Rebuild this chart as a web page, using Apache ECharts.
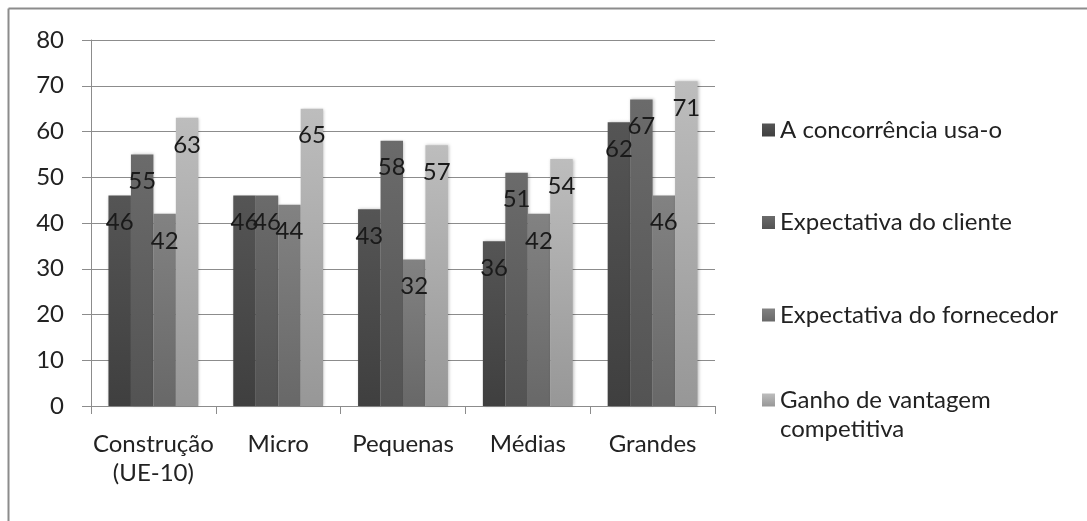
<!DOCTYPE html>
<html>
<head>
<meta charset="utf-8">
<script src="https://cdn.jsdelivr.net/npm/echarts@6/dist/echarts.min.js"></script>
<style>
html,body{margin:0;padding:0;background:#fff;}
#chart{width:1087px;height:521px;}
</style>
</head>
<body>
<div id="chart"></div>
<script>
const categories = ['Construção\n(UE-10)', 'Micro', 'Pequenas', 'Médias', 'Grandes'];
const seriesNames = ['A concorrência usa-o', 'Expectativa do cliente', 'Expectativa do fornecedor', 'Ganho de vantagem competitiva'];
const concorrencia = [46, 46, 43, 36, 62];
const cliente = [55, 46, 58, 51, 67];
const fornecedor = [42, 44, 32, 42, 46];
const vantagem = [63, 65, 57, 54, 71];
const yTicks = [0, 10, 20, 30, 40, 50, 60, 70, 80];

const FONT = 'Lato, "Open Sans", sans-serif';
const FS = 24;
function grad(top, bottom) {
  return new echarts.graphic.LinearGradient(0, 0, 0, 1, [
    {offset: 0, color: top}, {offset: 1, color: bottom}
  ]);
}
const colors = [
  grad('#555555', '#3f3f3f'),
  grad('#6b6b6b', '#535353'),
  grad('#828282', '#686868'),
  grad('#bdbdbd', '#979797')
];
const dataSets = [concorrencia, cliente, fornecedor, vantagem];

const legendText = {fontFamily: FONT, fontSize: FS, color: '#222', lineHeight: 29};

const chart = echarts.init(document.getElementById('chart'), null, {renderer: 'canvas'});
chart.setOption({
  animation: false,
  backgroundColor: '#fff',
  textStyle: {fontFamily: FONT},
  graphic: [
    {type: 'line', shape: {x1: 8.5, y1: 8.5, x2: 1087, y2: 8.5}, style: {stroke: '#8c8c8c', lineWidth: 2}},
    {type: 'line', shape: {x1: 8.5, y1: 8.5, x2: 8.5, y2: 521}, style: {stroke: '#8c8c8c', lineWidth: 2}}
  ],
  grid: {left: 91, right: 372, top: 40, bottom: 115},
  legend: [
    {
      orient: 'vertical',
      left: 762,
      top: 115.5,
      padding: 0,
      itemWidth: 13,
      itemHeight: 13,
      itemGap: 63.5,
      icon: 'rect',
      textStyle: legendText,
      data: seriesNames.slice(0, 3)
    },
    {
      orient: 'vertical',
      left: 762,
      top: 356.5,
      padding: 0,
      itemWidth: 13,
      itemHeight: 13,
      icon: 'rect',
      textStyle: legendText,
      data: [seriesNames[3]],
      formatter: function () { return ' \nGanho de vantagem\ncompetitiva'; }
    }
  ],
  xAxis: {
    type: 'category',
    data: categories,
    axisLine: {lineStyle: {color: '#8c8c8c'}},
    axisTick: {show: true, length: 8, alignWithLabel: false, lineStyle: {color: '#8c8c8c'}},
    axisLabel: {fontFamily: FONT, fontSize: FS, color: '#222', margin: 24, lineHeight: 29, interval: 0}
  },
  yAxis: {
    type: 'value',
    min: yTicks[0],
    max: yTicks[yTicks.length - 1],
    interval: 10,
    axisLine: {show: true, lineStyle: {color: '#8c8c8c'}},
    axisTick: {show: true, length: 9, lineStyle: {color: '#8c8c8c'}},
    splitLine: {lineStyle: {color: '#8c8c8c'}},
    axisLabel: {fontFamily: FONT, fontSize: FS, color: '#222', margin: 27}
  },
  series: dataSets.map((d, i) => ({
    name: seriesNames[i],
    type: 'bar',
    data: d,
    barGap: '0%',
    barCategoryGap: '28%',
    itemStyle: {color: colors[i], shadowColor: 'rgba(0,0,0,0.25)', shadowBlur: 3, shadowOffsetX: 1},
    label: {
      show: true,
      position: 'insideTop',
      distance: 15,
      fontFamily: FONT,
      fontSize: FS,
      color: '#1a1a1a'
    }
  }))
});
</script>
</body>
</html>
